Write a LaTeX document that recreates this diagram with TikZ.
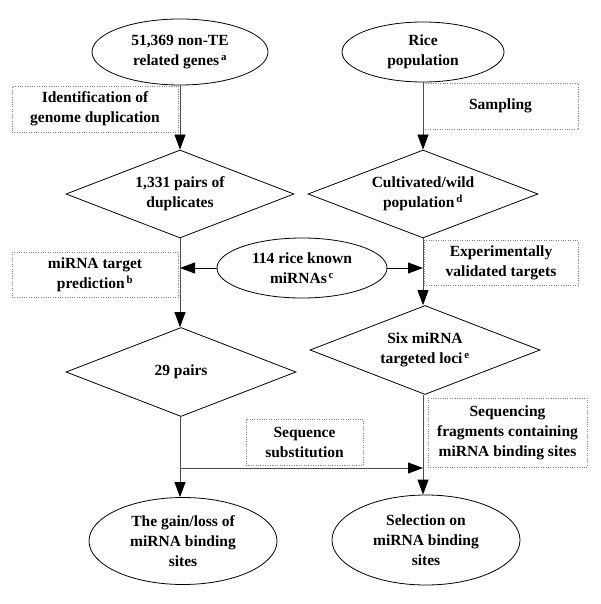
\documentclass[tikz,border=0pt]{standalone}
\usepackage{fontspec}
\setmainfont{Liberation Serif}
\usetikzlibrary{arrows.meta}
\usetikzlibrary{positioning,shapes.geometric}
\tikzset{
    oval/.style={
        draw,
        ellipse,
        thick,
        inner sep=0pt,
        align=center
    },
    choice/.style={
        draw,
        diamond,
        aspect=2.6,
        thick,
        inner sep=0pt,
        align=center
    },
    note/.style={
        draw=gray,
        dotted,
        inner sep=0pt,
        align=center
    },
    flow/.style={
        draw=black!70,
        thick,
        -{Triangle[length=15pt, width=11pt, color=black]}
    }
}
\newcommand{\marker}[1]{\textsuperscript{\,#1}}

\begin{document}
\begin{tikzpicture}[x=1pt, y=-1pt, every node/.style={font=\fontsize{15.5}{20}\selectfont\bfseries}]
  \useasboundingbox (0,0) rectangle (600,604);

  % Left column
  \node[oval, minimum width=176pt, minimum height=66pt] (genes) at (180,52) {51,369 non-TE\\related genes\marker{a}};
  \node[choice, minimum width=228pt, minimum height=88pt] (dups) at (180,194) {1,331 pairs of\\duplicates};
  \node[choice, minimum width=230pt, minimum height=89pt] (pairs) at (181,372) {29 pairs};
  \node[oval, minimum width=188pt, minimum height=87pt] (gain) at (183,541) {The gain/loss of\\miRNA binding\\sites};

  % Right column
  \node[oval, minimum width=162pt, minimum height=60pt] (rice) at (423,52) {Rice\\population};
  \node[choice, minimum width=230pt, minimum height=88pt] (wild) at (423,194) {Cultivated/wild\\population\marker{d}};
  \node[choice, minimum width=230pt, minimum height=89pt] (loci) at (425,350) {Six miRNA\\targeted loci\marker{e}};
  \node[oval, minimum width=188pt, minimum height=90pt] (select) at (426,540) {Selection on\\miRNA binding\\sites};

  % Middle
  \node[oval, minimum width=170pt, minimum height=60pt] (known) at (302,268) {114 rice known\\miRNAs\marker{c}};

  % Dotted notes
  \node[note, minimum width=166pt, minimum height=46pt] (ident) at (95,109) {Identification of\\genome duplication};
  \node[note, minimum width=155pt, minimum height=46pt] (sampling) at (500.5,106) {Sampling};
  \node[note, minimum width=166pt, minimum height=45pt] (predict) at (95,274.5) {miRNA target\\prediction\marker{b}};
  \node[note, minimum width=154pt, minimum height=45pt] (valid) at (501,262.5) {Experimentally\\validated targets};
  \node[note, minimum width=117pt, minimum height=46pt] (subst) at (304.5,442) {Sequence\\substitution};
  \node[note, minimum width=159pt, minimum height=69pt] (frag) at (507.5,432.5) {Sequencing\\fragments containing\\miRNA binding sites};

  % Junctions
  \coordinate (predjoin) at (180,268);
  \coordinate (validjoin) at (423,268);
  \coordinate (substfrom) at (180,468);
  \coordinate (substto) at (423,468);

  % Edges
  \draw[flow] (genes) -- (dups);
  \draw[flow] (dups) -- (pairs.north -| dups.south);
  \draw[flow] (pairs.south -| dups.south) -- (gain.north -| dups.south);
  \draw[flow] (rice) -- (wild);
  \draw[flow] (wild.south) -- (loci.north -| wild.south);
  \draw[flow] (loci.south -| wild.south) -- (select.north -| wild.south);
  \draw[flow, draw=black] (known) -- (predjoin);
  \draw[flow, draw=black] (known) -- (validjoin);
  \draw[flow] (substfrom) -- (substto);
\end{tikzpicture}
\end{document}
